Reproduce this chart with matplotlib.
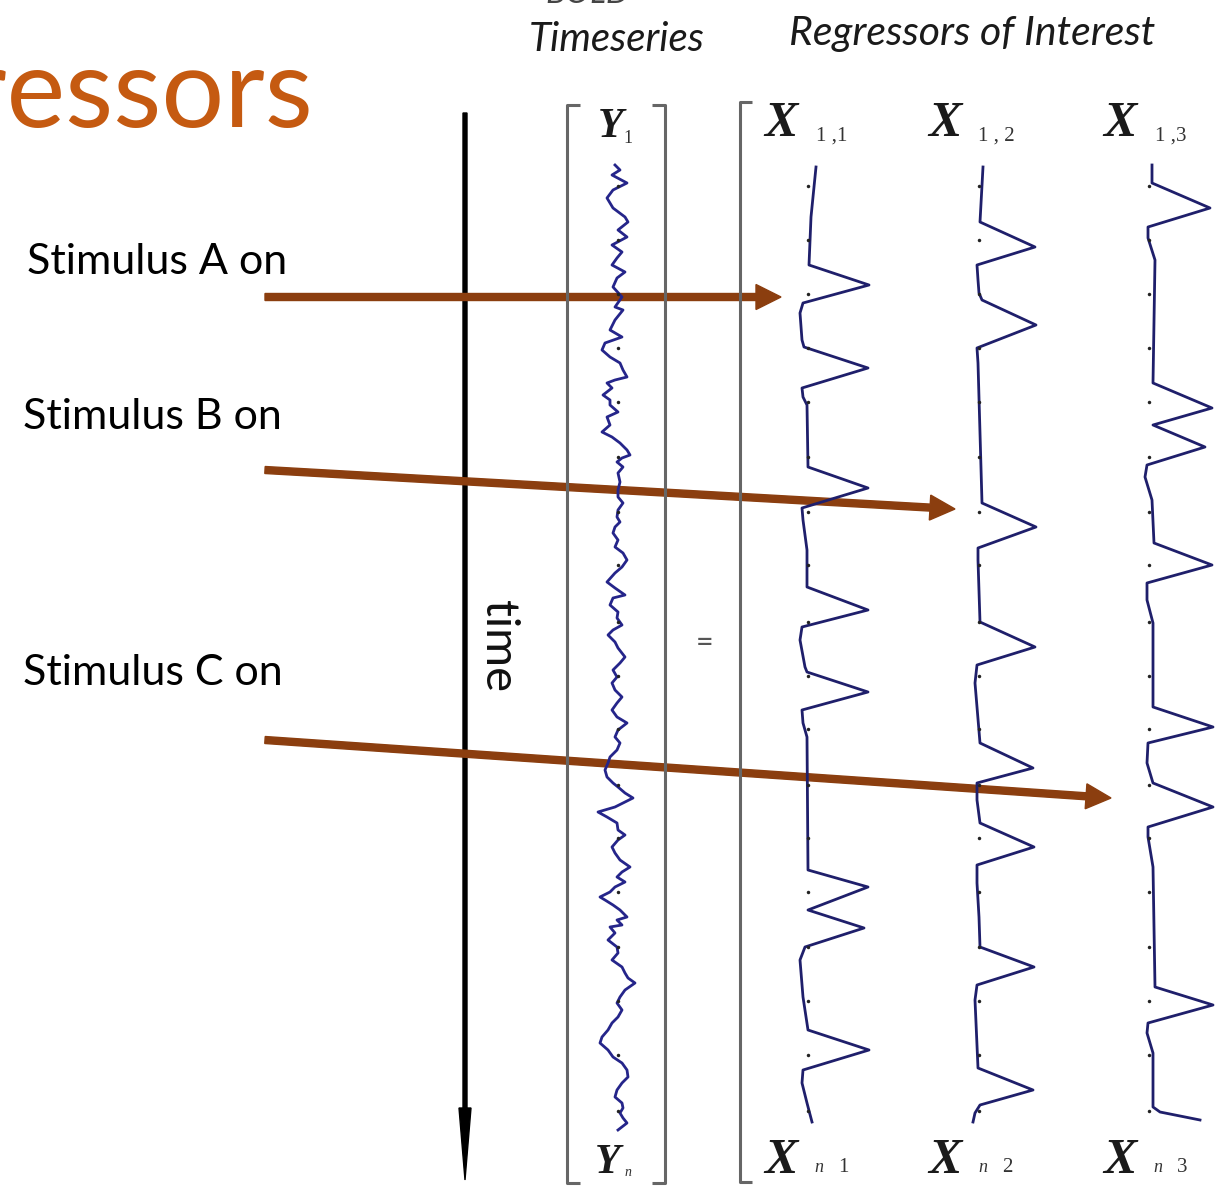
import numpy as np
import matplotlib.pyplot as plt

# everything is laid out in image pixels (x to the right, y downwards)
W, H = 1230, 1195

title_text = 'Regressors'
title_color = '#C55A11'

stim_labels = ['Stimulus A on', 'Stimulus B on', 'Stimulus C on']
stim_label_xy = [(27, 262), (23, 417), (23, 673)]
stim_start = [(265, 297), (265, 470), (265, 740)]
stim_end = [(781, 297), (955, 509), (1111, 798)]
arrow_color = '#8B3E0F'

# rows where the little scan dots sit
dot_rows = [186, 240, 294, 348, 402, 457, 512, 565, 622, 676,
            729, 785, 838, 892, 947, 1001, 1055, 1111]
dot_cols = [618, 808, 979, 1149]

# measured BOLD timeseries Y (time -> horizontal position)
y_time = [165, 170, 175, 183, 190, 198, 208, 217, 222, 230, 237, 245, 252,
          258, 265, 272, 278, 287, 297, 307, 310, 320, 330, 337, 343, 350,
          357, 363, 370, 377, 380, 383, 388, 395, 400, 405, 412, 417, 425,
          432, 437, 443, 450, 455, 458, 462, 467, 473, 482, 490, 497, 503,
          510, 517, 522, 527, 533, 540, 547, 553, 560, 567, 573, 582, 588,
          595, 598, 605, 612, 618, 625, 630, 635, 642, 648, 657, 663, 670,
          677, 683, 690, 697, 703, 710, 717, 723, 730, 737, 743, 750, 757,
          763, 770, 777, 783, 787, 793, 798, 803, 807, 812, 817, 823, 830,
          835, 840, 847, 853, 860, 867, 872, 877, 882, 887, 892, 897, 900,
          905, 910, 917, 920, 925, 927, 933, 940, 947, 953, 960, 967, 973,
          978, 983, 990, 997, 1003, 1010, 1017, 1023, 1030, 1037, 1043, 1050,
          1057, 1063, 1070, 1077, 1083, 1090, 1097, 1103, 1108, 1113, 1118,
          1123, 1130]
y_pos = [615, 620, 612, 627, 613, 607, 613, 625, 628, 618, 627, 612, 622,
         617, 612, 625, 617, 613, 622, 615, 623, 615, 610, 622, 605, 602,
         610, 620, 623, 627, 615, 607, 612, 603, 610, 610, 618, 607, 610,
         602, 612, 620, 627, 630, 622, 617, 623, 618, 620, 618, 618, 623,
         618, 617, 620, 615, 613, 618, 615, 623, 627, 622, 615, 607, 615,
         625, 613, 610, 618, 617, 622, 613, 608, 615, 618, 625, 620, 613,
         617, 612, 615, 622, 617, 612, 617, 627, 618, 615, 620, 617, 610,
         608, 605, 607, 613, 618, 625, 633, 623, 615, 598, 607, 617, 618,
         625, 618, 612, 615, 620, 630, 622, 617, 625, 615, 610, 600, 605,
         613, 620, 627, 617, 622, 610, 615, 608, 617, 618, 612, 622, 625,
         628, 635, 625, 620, 617, 622, 618, 612, 608, 602, 600, 608, 613,
         622, 627, 628, 622, 617, 615, 622, 623, 620, 623, 627, 618]

# regressors of interest (time -> horizontal position), one per condition
x1_time = [167, 217, 265, 285, 303, 313, 340, 347, 368, 388, 397, 405, 467,
           488, 508, 520, 550, 587, 610, 627, 640, 667, 672, 692, 710, 723,
           737, 870, 887, 910, 928, 947, 960, 997, 1030, 1050, 1070, 1083,
           1103, 1122]
x1_pos = [816, 811, 809, 869, 803, 800, 802, 804, 868, 802, 803, 807, 808,
          868, 802, 803, 807, 807, 868, 802, 800, 805, 807, 868, 802, 803,
          807, 808, 868, 808, 864, 805, 800, 803, 808, 869, 803, 802, 807,
          812]

x2_time = [167, 222, 247, 265, 280, 293, 300, 325, 348, 363, 503, 527, 548,
           560, 622, 647, 665, 683, 743, 768, 783, 800, 823, 847, 865, 883,
           917, 947, 967, 985, 1000, 1068, 1090, 1105, 1113, 1122]
x2_pos = [983, 980, 1035, 977, 978, 979, 982, 1036, 977, 978, 982, 1036,
          978, 978, 980, 1035, 977, 975, 980, 1033, 977, 977, 980, 1034, 977,
          977, 979, 980, 1034, 977, 975, 978, 1033, 980, 975, 973]

x3_time = [165, 183, 208, 227, 238, 260, 383, 408, 425, 447, 465, 477, 500,
           543, 565, 583, 600, 623, 707, 727, 743, 763, 783, 807, 827, 837,
           867, 987, 1005, 1023, 1033, 1053, 1107, 1112, 1120]
x3_pos = [1152, 1152, 1210, 1148, 1148, 1155, 1153, 1212, 1153, 1205, 1147,
          1145, 1152, 1154, 1212, 1147, 1147, 1153, 1153, 1213, 1148, 1147,
          1153, 1213, 1148, 1148, 1153, 1155, 1213, 1148, 1147, 1153, 1153,
          1160, 1200]

x_label_cols = [781, 945, 1120]
x_top_subs = ['1 ,1', '1 , 2', '1 ,3']
x_bot_subs = ['1', '2', '3']

fig = plt.figure(figsize=(W / 100, H / 100), dpi=100)
ax = fig.add_axes([0, 0, 1, 1])
ax.set_xlim(0, W)
ax.set_ylim(H, 0)
ax.axis('off')

sans = ['Lato', 'DejaVu Sans']
serif = ['Liberation Serif', 'DejaVu Serif']

# slide title, cut off at the left edge like on the slide
ax.text(314, 127, title_text, ha='right', va='baseline', fontsize=80,
        color=title_color, family=sans)

# column headers (the word above "Timeseries" is cut by the top edge)
ax.text(588, 3, 'BOLD', ha='center', va='baseline', fontsize=24,
        style='italic', color='#444444', family=sans)
ax.text(617, 39, 'Timeseries', ha='center', va='center', fontsize=29,
        style='italic', color='#1a1a1a', family=sans)
ax.text(972, 33, 'Regressors of Interest', ha='center', va='center',
        fontsize=29.5, style='italic', color='#1a1a1a', family=sans)

# time arrow
ax.arrow(465, 113, 0, 1180 - 113, width=4, head_width=12, head_length=72,
         length_includes_head=True, color='black')
ax.text(498, 646, 'time', rotation=270, ha='center', va='center',
        fontsize=34, color='#111111', family=sans)

# brackets
br = dict(color='#666666', lw=2.2, solid_capstyle='butt')
ax.plot([580, 567, 567, 580], [105, 105, 1183, 1183], **br)
ax.plot([652, 665, 665, 652], [105, 105, 1183, 1183], **br)
ax.plot([752, 740, 740, 752], [102, 102, 1182, 1182], **br)
ax.text(705, 643, '=', ha='center', va='center', fontsize=22,
        color='#555555', family=sans)

# traces
ax.plot(y_pos, y_time, color='#25258a', lw=2.0, solid_joinstyle='round')
for xs, ts in [(x1_pos, x1_time), (x2_pos, x2_time), (x3_pos, x3_time)]:
    ax.plot(xs, ts, color='#1f1f6b', lw=2.0, solid_joinstyle='round')

dx, dy = np.meshgrid(dot_cols, dot_rows)
ax.plot(dx.ravel(), dy.ravel(), 'o', color='#222222', ms=2.5, mec='none')

# matrix element labels
ax.text(611, 127, 'Y', ha='center', va='center', fontsize=30,
        weight='bold', style='italic', family=serif, color='#1a1a1a')
ax.text(628, 138, '1', ha='center', va='center', fontsize=13,
        family=serif, color='#333333')
ax.text(608, 1163, 'Y', ha='center', va='center', fontsize=30,
        weight='bold', style='italic', family=serif, color='#1a1a1a')
ax.text(628, 1172, 'n', ha='center', va='center', fontsize=10,
        style='italic', family=serif, color='#333333')
for cx, ts, bs in zip(x_label_cols, x_top_subs, x_bot_subs):
    ax.text(cx, 124, 'X', ha='center', va='center', fontsize=36,
            weight='bold', style='italic', family=serif, color='#1a1a1a')
    ax.text(cx + 51, 136, ts, ha='center', va='center', fontsize=15,
            family=serif, color='#333333')
    ax.text(cx, 1161, 'X', ha='center', va='center', fontsize=36,
            weight='bold', style='italic', family=serif, color='#1a1a1a')
    ax.text(cx + 38, 1168, 'n', ha='center', va='center', fontsize=13,
            style='italic', family=serif, color='#333333')
    ax.text(cx + 62, 1167, bs, ha='center', va='center', fontsize=15,
            family=serif, color='#333333')

# stimulus labels and arrows
for lab, (lx, ly), (x0, y0), (x1, y1) in zip(stim_labels, stim_label_xy,
                                             stim_start, stim_end):
    ax.text(lx, ly, lab, ha='left', va='center', fontsize=31,
            color='black', family=sans)
    ax.arrow(x0, y0, x1 - x0, y1 - y0, width=7, head_width=25,
             head_length=25, length_includes_head=True, color=arrow_color)

fig.savefig('out.png', dpi=100)
